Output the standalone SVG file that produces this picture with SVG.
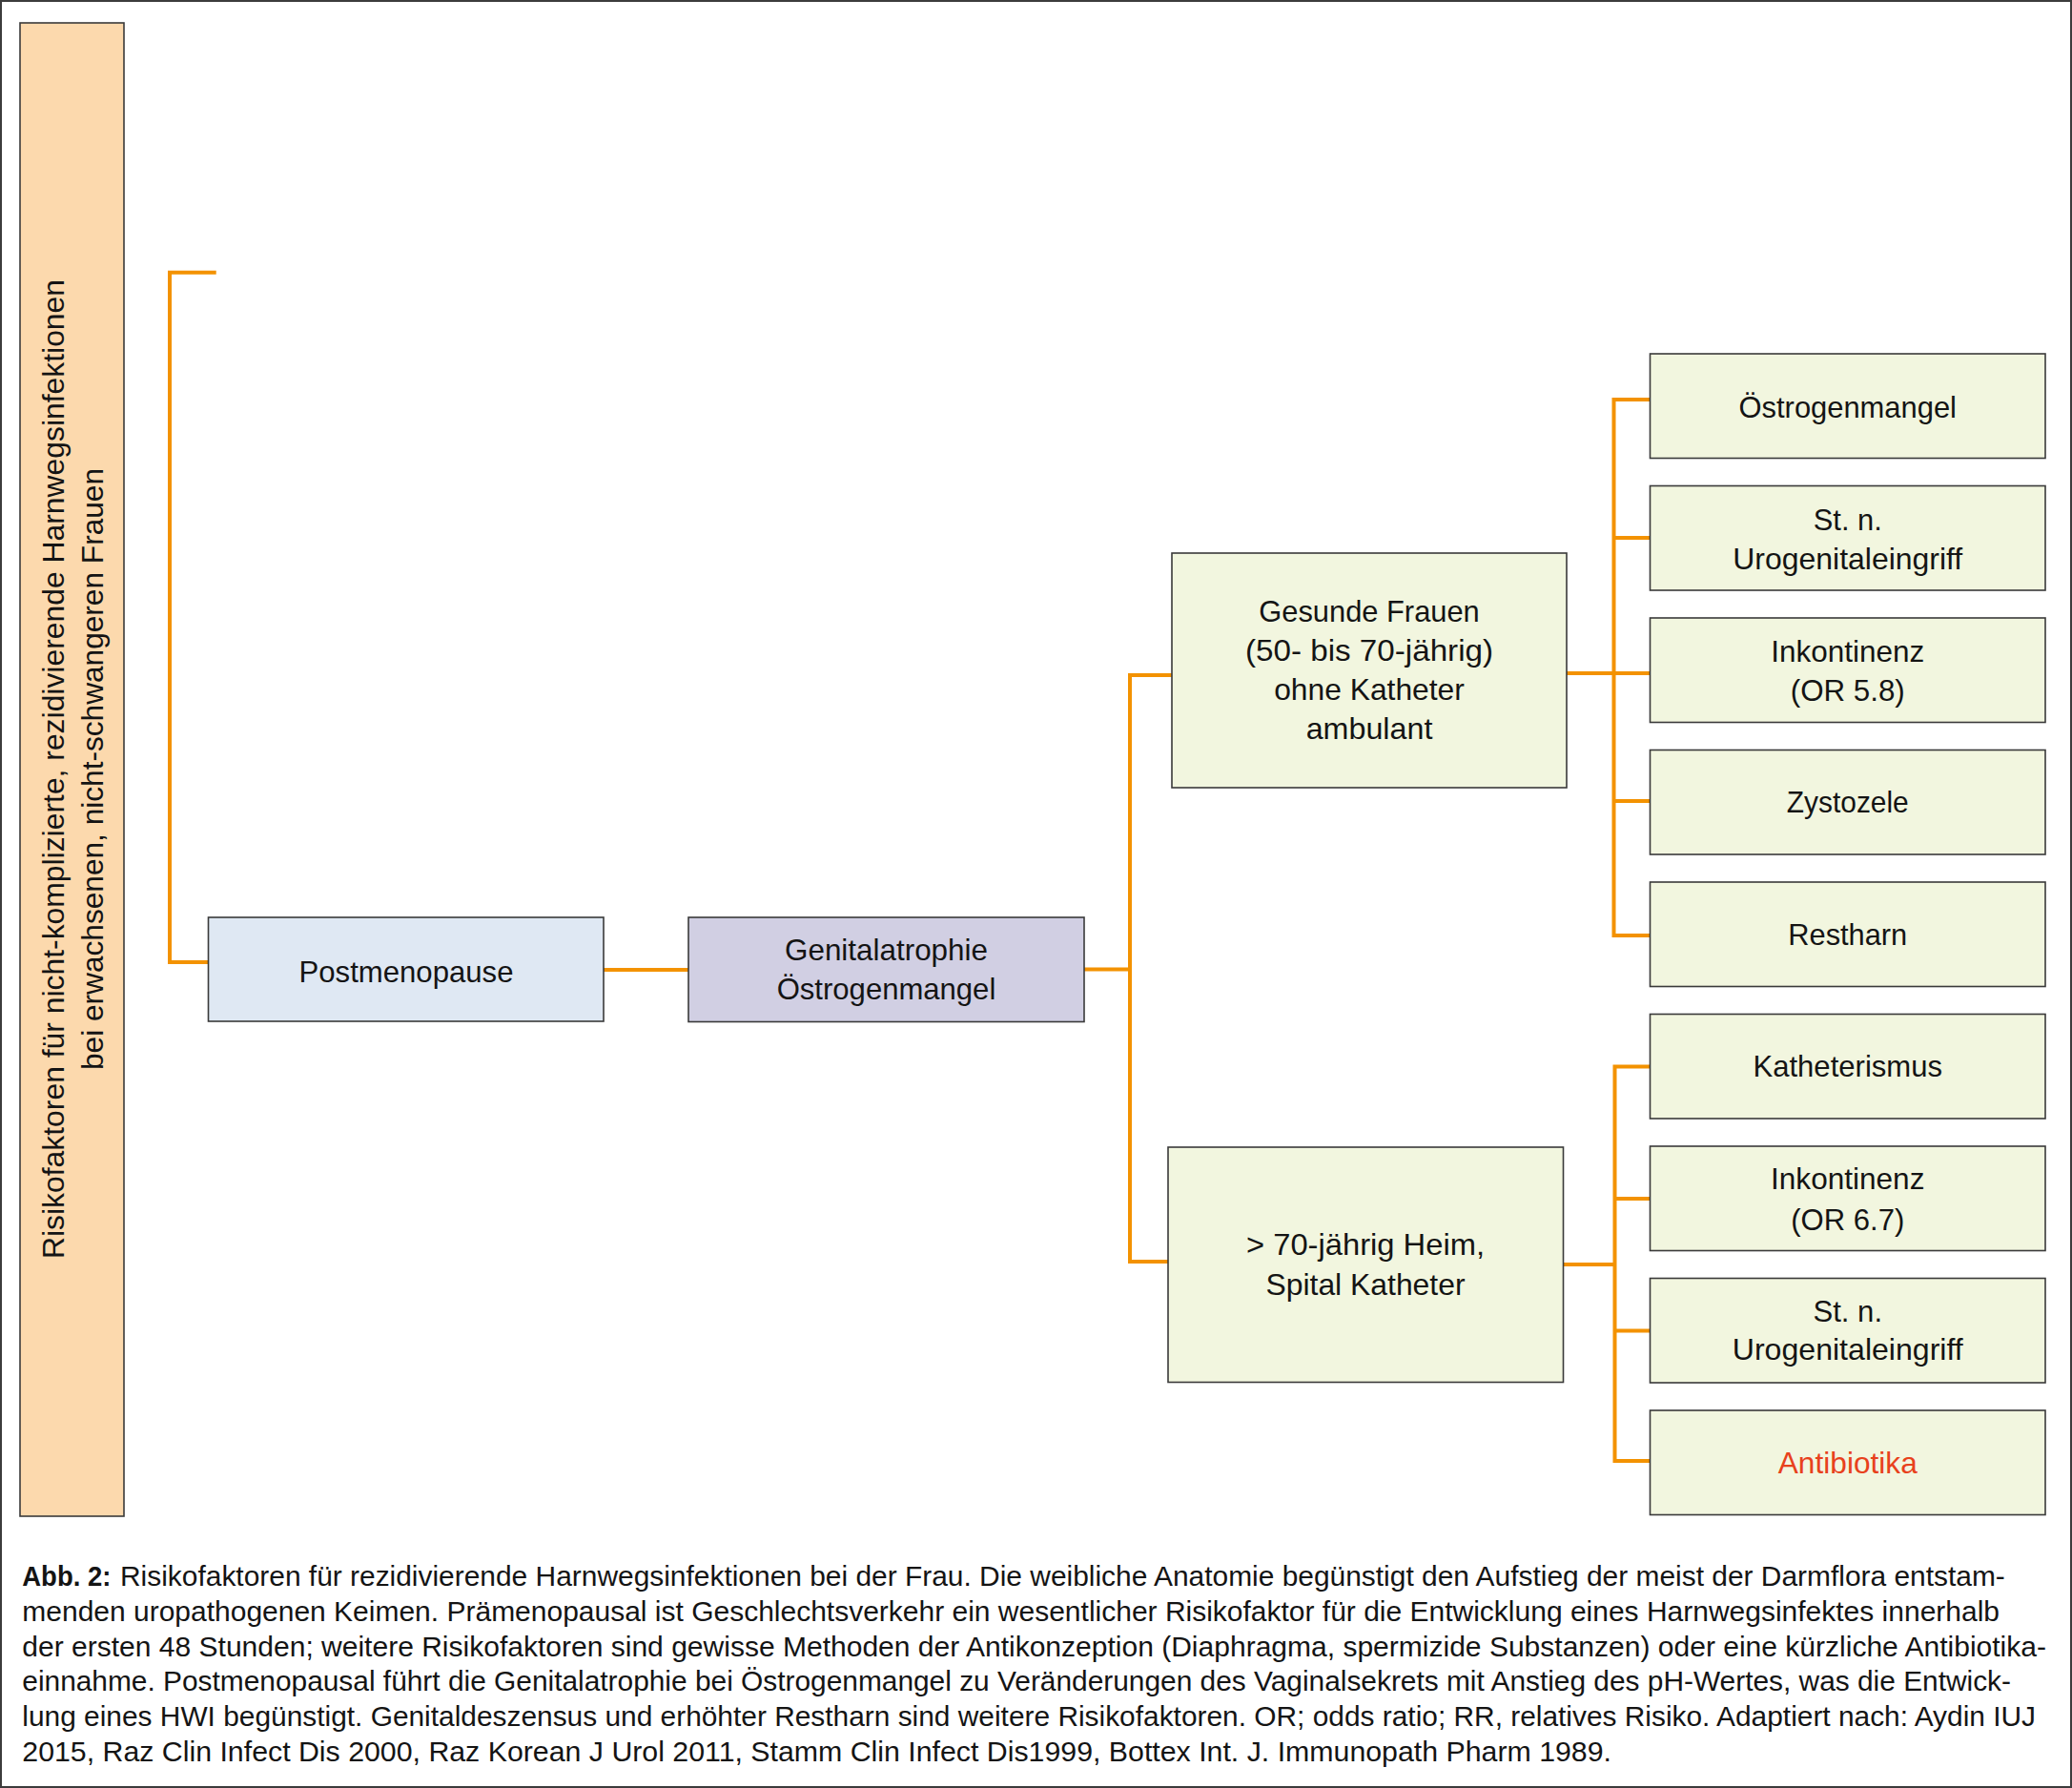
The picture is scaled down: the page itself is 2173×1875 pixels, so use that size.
<svg xmlns="http://www.w3.org/2000/svg" width="2173" height="1875" viewBox="0 0 2173 1875">
<style>
.box{stroke:#3a3a3a;stroke-width:1.6}
.bar{fill:#FCD9AD}
.blue{fill:#DFE8F3}
.lav{fill:#D1CFE3}
.grn{fill:#F2F6DF}
.t{font-family:"Liberation Sans",Arial,sans-serif;font-size:32px;fill:#141414;text-anchor:middle}
.cap{font-family:"Liberation Sans",Arial,sans-serif;font-size:29px;fill:#141414}
.conn{fill:none;stroke:#F39200;stroke-width:4;stroke-linejoin:miter}
</style>
<rect x="1" y="1" width="2171" height="1873" fill="#ffffff" stroke="#3c3c3c" stroke-width="2"/>

<g id="connectors">
<polyline class="conn" points="226.7,285.7 178,285.7 178,1009 218.5,1009"/>
<line class="conn" x1="633" y1="1017" x2="722" y2="1017"/>
<line class="conn" x1="1137" y1="1016.5" x2="1185" y2="1016.5"/>
<polyline class="conn" points="1229,708 1185,708 1185,1323 1225,1323"/>
<line class="conn" x1="1643" y1="706" x2="1730.5" y2="706"/>
<polyline class="conn" points="1730.5,419 1692.5,419 1692.5,981 1730.5,981"/>
<line class="conn" x1="1692.5" y1="564" x2="1730.5" y2="564"/>
<line class="conn" x1="1692.5" y1="840" x2="1730.5" y2="840"/>
<line class="conn" x1="1639.5" y1="1326" x2="1693.5" y2="1326"/>
<polyline class="conn" points="1730.5,1118.6 1693.5,1118.6 1693.5,1532 1730.5,1532"/>
<line class="conn" x1="1693.5" y1="1257" x2="1730.5" y2="1257"/>
<line class="conn" x1="1693.5" y1="1395.4" x2="1730.5" y2="1395.4"/>
</g>

<g id="title-bar">
<rect class="box bar" x="21" y="24" width="109" height="1566"/>
<text class="t" transform="translate(66.7,806.5) rotate(-90)" textLength="1027" lengthAdjust="spacingAndGlyphs">Risikofaktoren für nicht-komplizierte, rezidivierende Harnwegsinfektionen</text>
<text class="t" transform="translate(108.3,806.5) rotate(-90)" textLength="631" lengthAdjust="spacingAndGlyphs">bei erwachsenen, nicht-schwangeren Frauen</text>
</g>

<g id="postmenopause">
<rect class="box blue" x="218.5" y="962" width="414.5" height="109"/>
<text class="t" x="426" y="1029.5" textLength="225" lengthAdjust="spacingAndGlyphs">Postmenopause</text>
</g>

<g id="genitalatrophie">
<rect class="box lav" x="722" y="962" width="415" height="109.5"/>
<text class="t" x="929.5" y="1007" textLength="213" lengthAdjust="spacingAndGlyphs">Genitalatrophie</text>
<text class="t" x="929.5" y="1048" textLength="229.6" lengthAdjust="spacingAndGlyphs">Östrogenmangel</text>
</g>

<g id="gesunde-frauen">
<rect class="box grn" x="1229" y="580" width="414" height="246"/>
<text class="t" x="1436" y="651.7" textLength="231.5" lengthAdjust="spacingAndGlyphs">Gesunde Frauen</text>
<text class="t" x="1436" y="693" textLength="260" lengthAdjust="spacingAndGlyphs">(50- bis 70-jährig)</text>
<text class="t" x="1436" y="734" textLength="199.6" lengthAdjust="spacingAndGlyphs">ohne Katheter</text>
<text class="t" x="1436" y="775" textLength="132.7" lengthAdjust="spacingAndGlyphs">ambulant</text>
</g>

<g id="ueber-70">
<rect class="box grn" x="1225" y="1203" width="414.5" height="246.5"/>
<text class="t" x="1432" y="1316" textLength="250" lengthAdjust="spacingAndGlyphs">&gt; 70-jährig Heim,</text>
<text class="t" x="1432" y="1358" textLength="209" lengthAdjust="spacingAndGlyphs">Spital Katheter</text>
</g>

<g id="oestrogenmangel">
<rect class="box grn" x="1730.5" y="371" width="414.5" height="109.5"/>
<text class="t" x="1937.75" y="438" textLength="228.4" lengthAdjust="spacingAndGlyphs">Östrogenmangel</text>
</g>

<g id="urogenitaleingriff-1">
<rect class="box grn" x="1730.5" y="509.5" width="414.5" height="109.5"/>
<text class="t" x="1937.75" y="556" textLength="72" lengthAdjust="spacingAndGlyphs">St. n.</text>
<text class="t" x="1937.75" y="596.5" textLength="241" lengthAdjust="spacingAndGlyphs">Urogenitaleingriff</text>
</g>

<g id="inkontinenz-1">
<rect class="box grn" x="1730.5" y="648" width="414.5" height="109.5"/>
<text class="t" x="1937.75" y="694" textLength="161" lengthAdjust="spacingAndGlyphs">Inkontinenz</text>
<text class="t" x="1937.75" y="735" textLength="120" lengthAdjust="spacingAndGlyphs">(OR 5.8)</text>
</g>

<g id="zystozele">
<rect class="box grn" x="1730.5" y="786.5" width="414.5" height="109.5"/>
<text class="t" x="1937.75" y="852" textLength="128" lengthAdjust="spacingAndGlyphs">Zystozele</text>
</g>

<g id="restharn">
<rect class="box grn" x="1730.5" y="925" width="414.5" height="109.5"/>
<text class="t" x="1937.75" y="990.6" textLength="125" lengthAdjust="spacingAndGlyphs">Restharn</text>
</g>

<g id="katheterismus">
<rect class="box grn" x="1730.5" y="1063.5" width="414.5" height="109.5"/>
<text class="t" x="1937.75" y="1129" textLength="198.6" lengthAdjust="spacingAndGlyphs">Katheterismus</text>
</g>

<g id="inkontinenz-2">
<rect class="box grn" x="1730.5" y="1202" width="414.5" height="109.5"/>
<text class="t" x="1937.75" y="1247" textLength="161.4" lengthAdjust="spacingAndGlyphs">Inkontinenz</text>
<text class="t" x="1937.75" y="1290" textLength="119" lengthAdjust="spacingAndGlyphs">(OR 6.7)</text>
</g>

<g id="urogenitaleingriff-2">
<rect class="box grn" x="1730.5" y="1340.5" width="414.5" height="109.5"/>
<text class="t" x="1937.75" y="1385.5" textLength="72.6" lengthAdjust="spacingAndGlyphs">St. n.</text>
<text class="t" x="1937.75" y="1426" textLength="242" lengthAdjust="spacingAndGlyphs">Urogenitaleingriff</text>
</g>

<g id="antibiotika">
<rect class="box grn" x="1730.5" y="1479" width="414.5" height="109.5"/>
<text class="t" x="1937.75" y="1545" textLength="146" lengthAdjust="spacingAndGlyphs" style="fill:#E8411C">Antibiotika</text>
</g>

<g id="caption">
<text class="cap" x="23.3" y="1663.3" font-weight="bold" textLength="93" lengthAdjust="spacingAndGlyphs">Abb. 2:</text>
<text class="cap" x="126" y="1663.3" textLength="1976.8" lengthAdjust="spacingAndGlyphs">Risikofaktoren für rezidivierende Harnwegsinfektionen bei der Frau. Die weibliche Anatomie begünstigt den Aufstieg der meist der Darmflora entstam-</text>
<text class="cap" x="23.3" y="1700" textLength="2073.7" lengthAdjust="spacingAndGlyphs">menden uropathogenen Keimen. Prämenopausal ist Geschlechtsverkehr ein wesentlicher Risikofaktor für die Entwicklung eines Harnwegsinfektes innerhalb</text>
<text class="cap" x="23.3" y="1736.7" textLength="2122.7" lengthAdjust="spacingAndGlyphs">der ersten 48 Stunden; weitere Risikofaktoren sind gewisse Methoden der Antikonzeption (Diaphragma, spermizide Substanzen) oder eine kürzliche Antibiotika-</text>
<text class="cap" x="23.3" y="1773.3" textLength="2085.7" lengthAdjust="spacingAndGlyphs">einnahme. Postmenopausal führt die Genitalatrophie bei Östrogenmangel zu Veränderungen des Vaginalsekrets mit Anstieg des pH-Wertes, was die Entwick-</text>
<text class="cap" x="23.3" y="1810.3" textLength="2111.7" lengthAdjust="spacingAndGlyphs">lung eines HWI begünstigt. Genitaldeszensus und erhöhter Restharn sind weitere Risikofaktoren. OR; odds ratio; RR, relatives Risiko. Adaptiert nach: Aydin IUJ</text>
<text class="cap" x="23.3" y="1847.3" textLength="1666.7" lengthAdjust="spacingAndGlyphs">2015, Raz Clin Infect Dis 2000, Raz Korean J Urol 2011, Stamm Clin Infect Dis1999, Bottex Int. J. Immunopath Pharm 1989.</text>
</g>
</svg>
